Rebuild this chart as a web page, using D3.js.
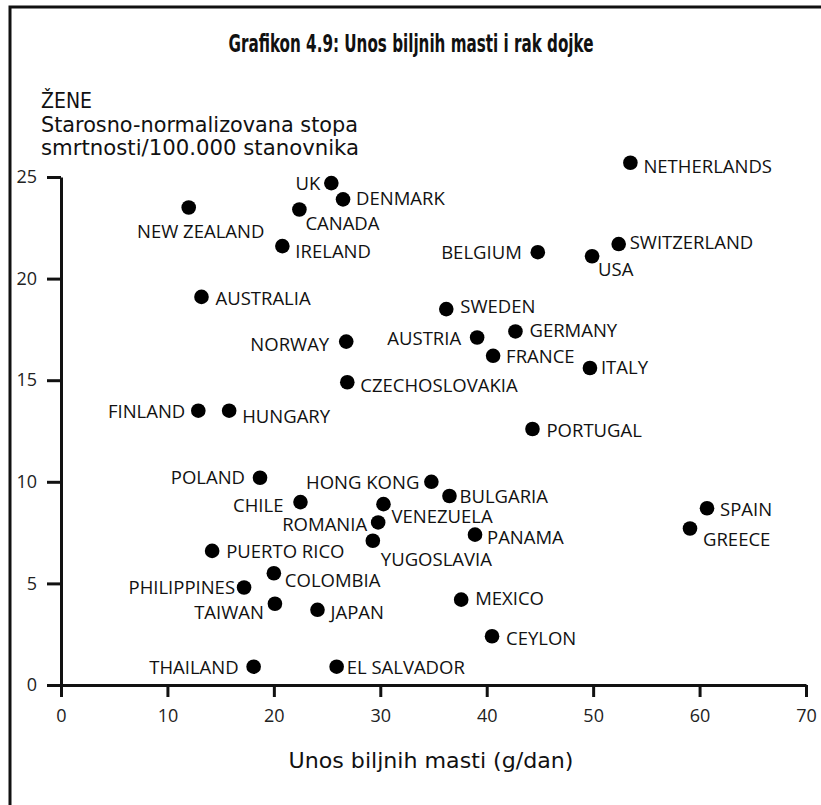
<!DOCTYPE html>
<html>
<head>
<meta charset="utf-8">
<script src="https://cdn.jsdelivr.net/npm/d3@7/dist/d3.min.js"></script>
<style>
  body { margin: 0; background: #fff; }
  .country { font-family: 'Open Sans', sans-serif; font-size: 18.5px; fill: #111; }
  .narrow { font-family: 'Liberation Sans Narrow', 'DejaVu Sans Condensed', sans-serif; fill: #111; }
</style>
</head>
<body>
<div class="chart"></div>
<script>
// data
const countries = [
  'UK', 'DENMARK', 'NEW ZEALAND', 'CANADA', 'IRELAND', 'AUSTRALIA', 'NORWAY',
  'CZECHOSLOVAKIA', 'FINLAND', 'HUNGARY', 'NETHERLANDS', 'BELGIUM', 'SWITZERLAND',
  'USA', 'SWEDEN', 'AUSTRIA', 'GERMANY', 'FRANCE', 'ITALY', 'PORTUGAL', 'POLAND',
  'HONG KONG', 'CHILE', 'BULGARIA', 'VENEZUELA', 'ROMANIA', 'YUGOSLAVIA', 'PANAMA',
  'PUERTO RICO', 'COLOMBIA', 'PHILIPPINES', 'TAIWAN', 'JAPAN', 'MEXICO', 'CEYLON',
  'SPAIN', 'GREECE', 'THAILAND', 'EL SALVADOR'
];
const fatIntake = [
  25.4, 26.5, 12.0, 22.4, 20.8, 13.2, 26.8,
  26.9, 12.9, 15.8, 53.5, 44.8, 52.4,
  49.9, 36.2, 39.1, 42.7, 40.6, 49.7, 44.3, 18.7,
  34.8, 22.5, 36.5, 30.3, 29.8, 29.3, 38.9,
  14.2, 20.0, 17.2, 20.1, 24.1, 37.6, 40.5,
  60.7, 59.1, 18.1, 25.9
];
const mortality = [
  24.7, 23.9, 23.5, 23.4, 21.6, 19.1, 16.9,
  14.9, 13.5, 13.5, 25.7, 21.3, 21.7,
  21.1, 18.5, 17.1, 17.4, 16.2, 15.6, 12.6, 10.2,
  10.0, 9.0, 9.3, 8.9, 8.0, 7.1, 7.4,
  6.6, 5.5, 4.8, 4.0, 3.7, 4.2, 2.4,
  8.7, 7.7, 0.9, 0.9
];
const xTicks = [0, 10, 20, 30, 40, 50, 60, 70];
const yTicks = [0, 5, 10, 15, 20, 25];
const yLabel = ['ŽENE', 'Starosno-normalizovana stopa', 'smrtnosti/100.000 stanovnika'];

// where each name sits next to its dot: [anchor, dx, dy]
const place = {
  'UK': ['end', -11, 7], 'DENMARK': ['start', 13, 6], 'NEW ZEALAND': ['middle', 12, 31],
  'CANADA': ['start', 6, 20], 'IRELAND': ['start', 13, 12], 'AUSTRALIA': ['start', 14, 8],
  'NORWAY': ['end', -17, 9], 'CZECHOSLOVAKIA': ['start', 13, 10], 'FINLAND': ['end', -13, 7],
  'HUNGARY': ['start', 13, 12], 'NETHERLANDS': ['start', 13, 10], 'BELGIUM': ['end', -16, 7],
  'SWITZERLAND': ['start', 11, 5], 'USA': ['start', 6, 20], 'SWEDEN': ['start', 14, 4],
  'AUSTRIA': ['end', -16, 7], 'GERMANY': ['start', 14, 6], 'FRANCE': ['start', 13, 7],
  'ITALY': ['start', 11, 6], 'PORTUGAL': ['start', 14, 8], 'POLAND': ['end', -15, 6],
  'HONG KONG': ['end', -12, 7], 'CHILE': ['end', -17, 10], 'BULGARIA': ['start', 10, 7],
  'VENEZUELA': ['start', 8, 19], 'ROMANIA': ['end', -11, 9], 'YUGOSLAVIA': ['start', 8, 25],
  'PANAMA': ['start', 12, 9], 'PUERTO RICO': ['start', 14, 7], 'COLOMBIA': ['start', 11, 14],
  'PHILIPPINES': ['end', -9, 7], 'TAIWAN': ['end', -11, 15], 'JAPAN': ['start', 13, 9],
  'MEXICO': ['start', 14, 5], 'CEYLON': ['start', 14, 9], 'SPAIN': ['start', 13, 8],
  'GREECE': ['start', 13, 17], 'THAILAND': ['end', -15, 7], 'EL SALVADOR': ['start', 10, 7]
};

const W = 821, H = 805;
const svg = d3.select('.chart').append('svg').attr('width', W).attr('height', H);

// frame
svg.append('rect')
  .attr('x', 10).attr('y', 7).attr('width', W + 20).attr('height', H + 20)
  .attr('fill', 'none').attr('stroke', '#111').attr('stroke-width', 3);

svg.append('text')
  .attr('class', 'narrow')
  .attr('x', 411).attr('y', 52)
  .attr('text-anchor', 'middle')
  .attr('font-size', 25).attr('font-weight', 'bold')
  .attr('textLength', 365).attr('lengthAdjust', 'spacingAndGlyphs')
  .text('Grafikon 4.9: Unos biljnih masti i rak dojke');

const x = d3.scaleLinear().domain([0, 70]).range([61, 806]);
const y = d3.scaleLinear().domain([0, 25]).range([685, 177]);

const yAxis = svg.append('g')
  .attr('transform', `translate(${x(0)},0)`)
  .call(d3.axisLeft(y).tickValues(yTicks).tickSize(14).tickSizeOuter(0).tickPadding(10));
const xAxis = svg.append('g')
  .attr('transform', `translate(0,${y(0)})`)
  .call(d3.axisBottom(x).tickValues(xTicks).tickSize(12).tickSizeOuter(0).tickPadding(12));
[xAxis, yAxis].forEach(g => {
  g.attr('font-family', "'Open Sans', sans-serif").attr('font-size', 18);
  g.select('.domain').attr('stroke', '#111').attr('stroke-width', 3);
  g.selectAll('.tick line').attr('stroke', '#111').attr('stroke-width', 3);
  g.selectAll('.tick text').attr('fill', '#222');
});
yAxis.selectAll('.tick text').attr('x', -24);

svg.append('g')
  .selectAll('text')
  .data(yLabel)
  .enter()
  .append('text')
  .attr('class', 'narrow')
  .attr('x', 41)
  .attr('y', (d, i) => [108, 132, 155][i])
  .attr('font-size', 21)
  .attr('textLength', (d, i) => [null, 317, 318][i])
  .attr('lengthAdjust', 'spacingAndGlyphs')
  .text(d => d);

svg.append('text')
  .attr('class', 'narrow')
  .attr('x', 431).attr('y', 768)
  .attr('text-anchor', 'middle')
  .attr('font-size', 22)
  .attr('textLength', 285).attr('lengthAdjust', 'spacingAndGlyphs')
  .text('Unos biljnih masti (g/dan)');

const pts = countries.map((c, i) => ({ name: c, fat: fatIntake[i], rate: mortality[i] }));

svg.append('g')
  .selectAll('circle')
  .data(pts)
  .enter()
  .append('circle')
  .attr('cx', d => x(d.fat))
  .attr('cy', d => y(d.rate))
  .attr('r', 7.3)
  .attr('fill', '#000');

svg.append('g')
  .selectAll('text')
  .data(pts)
  .enter()
  .append('text')
  .attr('class', 'country')
  .attr('x', d => x(d.fat) + place[d.name][1])
  .attr('y', d => y(d.rate) + place[d.name][2])
  .attr('text-anchor', d => place[d.name][0])
  .text(d => d.name);
</script>
</body>
</html>
